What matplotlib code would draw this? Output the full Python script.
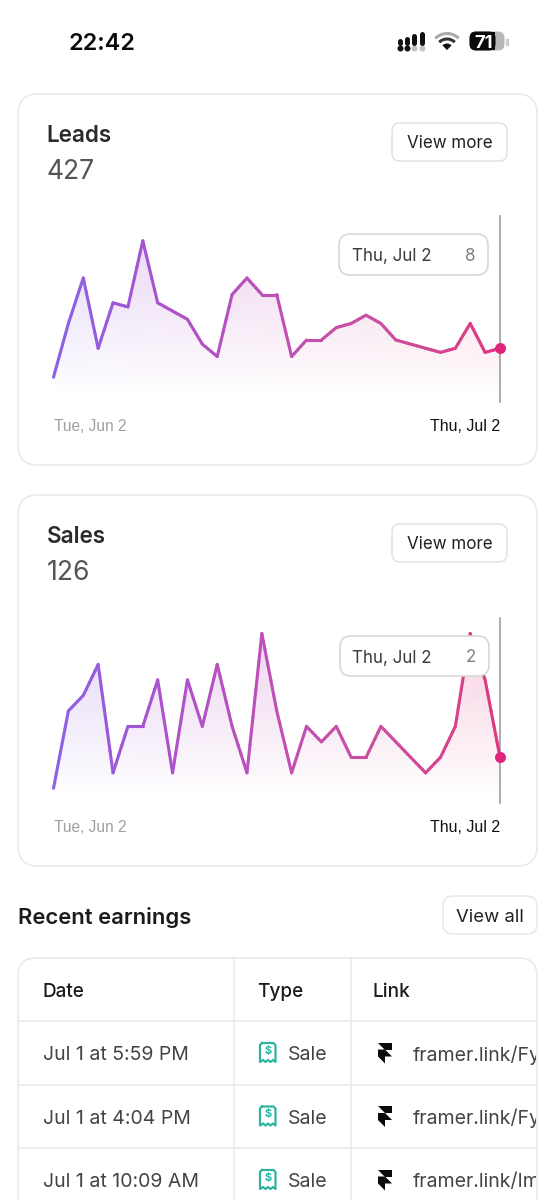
import numpy as np
import matplotlib
matplotlib.use("Agg")
import matplotlib.pyplot as plt
from matplotlib.collections import LineCollection
from matplotlib.colors import LinearSegmentedColormap
from matplotlib.patches import FancyBboxPatch, Polygon, Rectangle, Arc, Wedge

days = list(range(31))
leads = [1,14,25,8,19,18,34,19,17,15,9,6,21,25,21,21,6,10,10,13,14,16,14,10,9,8,7,8,14,7,8]
sales = [0,5,6,8,1,4,4,7,1,7,4,8,4,1,10,5,1,4,3,4,2,2,4,3,2,1,2,4,10,7,2]
date_labels = ["Tue, Jun 2", "Thu, Jul 2"]
rows_date = ["Jul 1 at 5:59 PM", "Jul 1 at 4:04 PM", "Jul 1 at 10:09 AM"]
rows_type = ["Sale", "Sale", "Sale"]
rows_link = ["framer.link/Fy", "framer.link/Fy", "framer.link/Im"]
headers = ["Date", "Type", "Link"]

W, H = 554, 1200
plt.rcParams["font.family"] = ["Inter", "DejaVu Sans"]
fig = plt.figure(figsize=(W/100, H/100), dpi=100, facecolor="white")
PT = 72/100  # points per pixel

def overlay(z):
    a = fig.add_axes([0, 0, 1, 1], zorder=z)
    a.set_xlim(0, W); a.set_ylim(H, 0); a.axis("off"); a.patch.set_alpha(0)
    return a

bg = overlay(0)
top = overlay(5)

BORDER = "#e8e8e8"
def rbox(a, x0, y0, x1, y1, r, ec=BORDER, fc="white", lw=1.5, z=1):
    p = FancyBboxPatch((x0+r, y0+r), x1-x0-2*r, y1-y0-2*r, boxstyle=f"round,pad={r},rounding_size={r}",
                       ec=ec, fc=fc, lw=lw*PT, zorder=z, mutation_aspect=1)
    a.add_patch(p); return p

def txt(a, x, y, s, size, color="#222", weight="normal", ha="left", **kw):
    return a.text(x, y, s, fontsize=size*PT, color=color, fontweight=weight, ha=ha, va="center_baseline", **kw)

cm = LinearSegmentedColormap.from_list("g", ["#8a62e6", "#ac52cc", "#c050b4", "#cc4e9e", "#e0387f"])

def chart(y0, y1, values, ylim, title, total, tip_box, tip_date, tip_val, card_top):
    rbox(bg, 18, card_top, 537, card_top+371, 20)
    txt(bg, 46.5, card_top+39.5, title, 22.5, "#2a2a2a", "semibold")
    txt(bg, 46.5, card_top+75, total, 26.5, "#555555")
    rbox(bg, 392, card_top+29, 507, card_top+67, 8, ec="#e2e2e2")
    txt(bg, 449.5, card_top+47.5, "View more", 17, "#222", ha="center")

    ax = fig.add_axes([53.5/W, 1-y1/H, (500-53.5)/W, (y1-y0)/H], zorder=2)
    ax.patch.set_alpha(0)
    for s in ax.spines.values():
        s.set_visible(False)
    ax.set_xlim(0, 30); ax.set_ylim(*ylim)
    ax.set_yticks([])
    ax.set_xticks([days[0], days[-1]], date_labels)
    ax.tick_params(axis="x", length=0, pad=12, labelsize=16*PT)
    l0, l1 = ax.get_xticklabels()
    l0.set_ha("left"); l0.set_color("#a0a0a0"); l0.set_family("Liberation Sans"); l0.set_fontsize(15.5*PT)
    l1.set_ha("right"); l1.set_color("#111111"); l1.set_family("Liberation Sans")

    x = np.array(days, float); y = np.array(values, float)
    nx, ny = 300, 200
    cols = cm(np.linspace(0, 1, nx))[:, :3]
    img = np.zeros((ny, nx, 4))
    img[..., :3] = cols[None, :, :]
    yy = np.linspace(1, 0, ny)[:, None]
    img[..., 3] = np.clip((yy-0.03)/0.97, 0, 1)**0.9 * 0.25
    im = ax.imshow(img, extent=[0, 30, ylim[0], ylim[1]], aspect="auto", origin="upper", zorder=1, interpolation="bilinear")
    clip = Polygon(np.column_stack([np.r_[x, x[-1], x[0]], np.r_[y, ylim[0], ylim[0]]]), transform=ax.transData, fc="none", ec="none")
    ax.add_patch(clip)
    im.set_clip_path(clip)
    ax.set_xlim(0, 30); ax.set_ylim(*ylim)

    xf = np.concatenate([np.linspace(x[i], x[i+1], 6)[:-1] for i in range(len(x)-1)] + [[x[-1]]])
    yf = np.interp(xf, x, y)
    pts = np.column_stack([xf, yf])
    segs = np.stack([pts[:-1], pts[1:]], axis=1)
    lc = LineCollection(segs, colors=cm(xf[:-1]/30), linewidths=3.1*PT, capstyle="round", zorder=3)
    lc.set_clip_on(False)
    ax.add_collection(lc)
    ax.axvline(days[-1], color="#9a9a9a", lw=1.6*PT, zorder=2.5, clip_on=False)
    ax.plot([days[-1]], [values[-1]], "o", ms=11*PT, color="#e0267a", mec="none", zorder=4, clip_on=False)

    bx0, by0, bx1, by1 = tip_box
    rbox(top, bx0, by0, bx1, by1, 11, ec="#d6d6d6", fc="white", lw=1.6)
    cy = (by0+by1)/2
    txt(top, bx0+12.5, cy, tip_date, 17, "#3a3a3a", zorder=3)
    txt(top, bx1-13, cy, tip_val, 17, "#808080", ha="right", zorder=3)
    return ax

chart(216, 402, leads, (-5, 40), "Leads", "427", (339, 234, 488, 275), "Thu, Jul 2", str(leads[-1]), 94)
chart(618, 803, sales, (-0.95, 11), "Sales", "126", (340, 636, 489, 676), "Thu, Jul 2", str(sales[-1]), 495)

# status bar
txt(bg, 68, 41, "22:42", 23.5, "#0a0a0a", "semibold")
sx = [399.5, 406.7, 414, 422]
for i, c in enumerate(sx):
    bg.plot([c], [48], "o", ms=6*PT, color="#111" if i < 2 else "#c4c4c4", mec="none", zorder=2)
for c, a_ in zip(sx, [40.5, 38.5, 36, 33.5]):
    bg.plot([c, c], [a_, 42.5], color="#111", lw=5*PT, solid_capstyle="round", zorder=2)
bg.add_patch(Wedge((447, 50), 6.5, 225, 315, color="#111", zorder=3, lw=0))
for r, col in [(11, "#333"), (16.5, "#aaa")]:
    bg.add_patch(Arc((447, 50), 2*r, 2*r, theta1=225, theta2=315, color=col, lw=3*PT, zorder=3))
rbox(bg, 470, 32, 504, 50, 6, ec="#b8b8b8", fc="#b8b8b8", lw=1, z=2)
rbox(bg, 470, 32, 495, 50, 6, ec="#0a0a0a", fc="#0a0a0a", lw=1, z=3)
bg.add_patch(Rectangle((490, 32), 5, 18, color="#0a0a0a", zorder=3, lw=0))
txt(bg, 484, 41, "71", 18.5, "white", "bold", ha="center", zorder=4)
bg.add_patch(Rectangle((505.5, 38.5), 2, 6, color="#cccccc", zorder=2))

# recent earnings
txt(bg, 18, 916, "Recent earnings", 22, "#1a1a1a", "semibold")
rbox(bg, 443, 896, 537, 934, 10)
txt(bg, 489.5, 915, "View all", 18.5, "#222", ha="center")

# table
rbox(bg, 18, 958, 537, 1240, 18)
for lx in [234, 350.5]:
    bg.plot([lx, lx], [958, 1200], color=BORDER, lw=1.5*PT, zorder=2)
for ly in [1021, 1084.5, 1148]:
    bg.plot([18, 537], [ly, ly], color=BORDER, lw=1.5*PT, zorder=2)
for hx, h in zip([43, 257, 373], headers):
    txt(bg, hx, 990, h, 19, "#1c1c1c", "medium")

tclip = Rectangle((18, 958), 517.5, 242, transform=bg.transData)
teal = "#2bb5a0"
for ry, d, t, l in zip([1053, 1116.5, 1180], rows_date, rows_type, rows_link):
    txt(bg, 43, ry, d, 19.5, "#444444")
    txt(bg, 288, ry, t, 19.5, "#444444")
    tx = txt(bg, 413, ry, l, 19.5, "#444444")
    tx.set_clip_on(True)
    tx.set_clip_path(tclip)
    ix0, ix1, iy0, iy1 = 260, 275.5, ry-10, ry+9
    verts = [(ix0+2, iy0), (ix1-2, iy0), (ix1, iy0+2), (ix1, iy1), (ix1-2.5, iy1-2), (ix1-5, iy1), (ix1-7.5, iy1-2),
             (ix1-10, iy1), (ix1-12.5, iy1-2), (ix0, iy1), (ix0, iy0+2), (ix0+2, iy0)]
    bg.plot(*zip(*verts), color=teal, lw=2.2*PT, zorder=3)
    bg.text((ix0+ix1)/2, ry-2, "$", color=teal, fontsize=11*PT, fontweight="bold", ha="center", va="center", zorder=3)
    u = 7; fx = 378; fy = ry-10.5
    pts1 = [(0, 0), (2, 0), (2, 1), (1, 1)]
    pts2 = [(0, 1), (1, 1), (2, 2), (1, 2), (1, 3), (0, 2)]
    for q in (pts1, pts2):
        bg.add_patch(Polygon([(fx+a_*u, fy+b_*u) for a_, b_ in q], fc="#0b0b0b", ec="none", zorder=3))

fig.savefig("out.png", dpi=100, facecolor="white")
